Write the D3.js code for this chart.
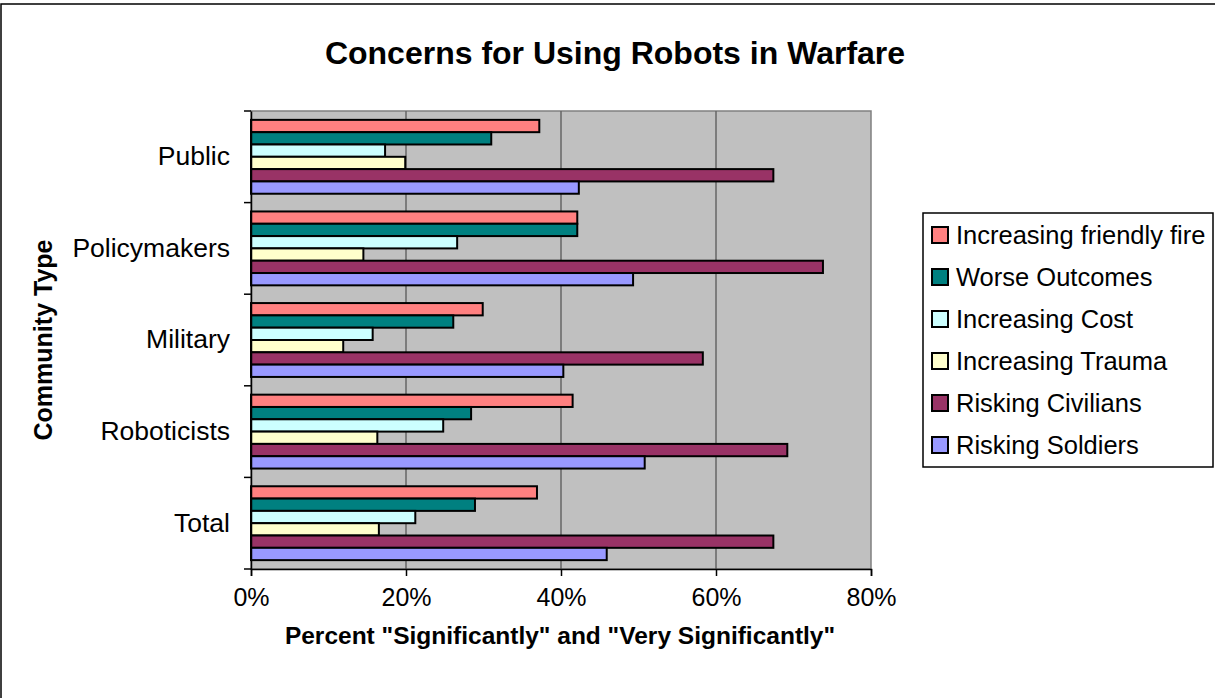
<!DOCTYPE html>
<html>
<head>
<meta charset="utf-8">
<script src="https://cdn.jsdelivr.net/npm/d3@7"></script>
<style>
  body { margin: 0; background: #fff; }
  svg text { font-family: "Liberation Sans", Arial, sans-serif; fill: #000; }
</style>
</head>
<body>
<script>
// data
var categories = ["Public", "Policymakers", "Military", "Roboticists", "Total"];
var seriesNames = ["Increasing friendly fire", "Worse Outcomes", "Increasing Cost",
                   "Increasing Trauma", "Risking Civilians", "Risking Soldiers"];
var seriesColors = ["#ff8080", "#008080", "#ccffff", "#ffffcc", "#993366", "#9999ff"];
var friendlyFire = [37.2, 42.1, 29.9, 41.5, 36.9];
var worseOutcomes = [31.0, 42.1, 26.1, 28.4, 28.9];
var increasingCost = [17.3, 26.6, 15.7, 24.8, 21.2];
var increasingTrauma = [19.9, 14.5, 11.9, 16.3, 16.5];
var riskingCivilians = [67.4, 73.8, 58.3, 69.2, 67.4];
var riskingSoldiers = [42.3, 49.3, 40.3, 50.8, 45.9];
var xTicks = [0, 20, 40, 60, 80];

var seriesValues = [friendlyFire, worseOutcomes, increasingCost,
                    increasingTrauma, riskingCivilians, riskingSoldiers];

var width = 1215, height = 698;
var plot = { left: 251, right: 871, top: 111, bottom: 569 };

var svg = d3.select("body").append("svg")
  .attr("width", width)
  .attr("height", height);

// outer chart frame (right and bottom edges fall outside the picture)
svg.append("rect")
  .attr("x", 1).attr("y", 4)
  .attr("width", 1230).attr("height", 720)
  .attr("fill", "#fff")
  .attr("stroke", "#000")
  .attr("stroke-width", 1.5);

var x = d3.scaleLinear().domain([0, 80]).range([plot.left, plot.right]);
var y0 = d3.scaleBand().domain(categories).range([plot.top, plot.bottom]).padding(0);
var y1 = d3.scaleBand().domain(seriesNames).range([0, y0.bandwidth()])
  .paddingInner(0).paddingOuter(0.72);

// plot area
svg.append("rect")
  .attr("x", plot.left).attr("y", plot.top)
  .attr("width", plot.right - plot.left).attr("height", plot.bottom - plot.top)
  .attr("fill", "#c0c0c0")
  .attr("stroke", "#808080")
  .attr("stroke-width", 1.5);

// gridlines
svg.append("g").selectAll("line")
  .data(xTicks.slice(1, -1))
  .enter().append("line")
  .attr("x1", function(d) { return x(d); })
  .attr("x2", function(d) { return x(d); })
  .attr("y1", plot.top).attr("y2", plot.bottom)
  .attr("stroke", "#666")
  .attr("stroke-width", 1.5);

// bars
var groups = svg.append("g").selectAll("g")
  .data(categories)
  .enter().append("g")
  .attr("transform", function(c) { return "translate(0," + y0(c) + ")"; });

groups.selectAll("rect")
  .data(function(c, ci) {
    return seriesNames.map(function(s, si) {
      return { name: s, value: seriesValues[si][ci], color: seriesColors[si] };
    });
  })
  .enter().append("rect")
  .attr("x", x(0))
  .attr("y", function(d) { return y1(d.name); })
  .attr("width", function(d) { return x(d.value) - x(0); })
  .attr("height", y1.bandwidth())
  .attr("fill", function(d) { return d.color; })
  .attr("stroke", "#000")
  .attr("stroke-width", 2);

// x axis
var xAxis = d3.axisBottom(x)
  .tickValues(xTicks)
  .tickFormat(function(d) { return d + "%"; })
  .tickSize(7)
  .tickPadding(12);
var gx = svg.append("g")
  .attr("transform", "translate(0," + plot.bottom + ")")
  .call(xAxis);
gx.select(".domain").attr("stroke", "#000").attr("stroke-width", 1.5);
gx.selectAll(".tick line").attr("stroke", "#000").attr("stroke-width", 1.5);
gx.selectAll("text").style("font-size", "25px");

// y axis: labels at band centres, ticks at band edges
var yAxis = d3.axisLeft(y0).tickSize(0).tickPadding(21);
var gy = svg.append("g")
  .attr("transform", "translate(" + plot.left + ",0)")
  .call(yAxis);
gy.select(".domain").attr("stroke", "#000").attr("stroke-width", 1.5);
gy.selectAll("text").style("font-size", "26.5px");

var edges = categories.map(function(c) { return y0(c); }).concat([plot.bottom]);
gy.selectAll(".edge")
  .data(edges)
  .enter().append("line")
  .attr("class", "edge")
  .attr("x1", -7).attr("x2", 0)
  .attr("y1", function(d) { return d; })
  .attr("y2", function(d) { return d; })
  .attr("stroke", "#000")
  .attr("stroke-width", 1.5);

// titles
svg.append("text")
  .attr("x", 615).attr("y", 64)
  .attr("text-anchor", "middle")
  .style("font-size", "32px")
  .style("font-weight", "bold")
  .text("Concerns for Using Robots in Warfare");

svg.append("text")
  .attr("x", 560).attr("y", 644)
  .attr("text-anchor", "middle")
  .style("font-size", "24.5px")
  .style("font-weight", "bold")
  .text("Percent \"Significantly\" and \"Very Significantly\"");

svg.append("text")
  .attr("transform", "translate(52," + ((plot.top + plot.bottom) / 2) + ") rotate(-90)")
  .attr("text-anchor", "middle")
  .style("font-size", "25px")
  .style("font-weight", "bold")
  .text("Community Type");

// legend
var legend = svg.append("g");
legend.append("rect")
  .attr("x", 923).attr("y", 213)
  .attr("width", 290).attr("height", 254)
  .attr("fill", "#fff")
  .attr("stroke", "#000")
  .attr("stroke-width", 1.5);

var items = legend.selectAll(".item")
  .data(seriesNames)
  .enter().append("g")
  .attr("class", "item")
  .attr("transform", function(d, i) { return "translate(932," + (235 + i * 42) + ")"; });

items.append("rect")
  .attr("x", 0).attr("y", -8)
  .attr("width", 16).attr("height", 16)
  .attr("fill", function(d, i) { return seriesColors[i]; })
  .attr("stroke", "#000")
  .attr("stroke-width", 2);

items.append("text")
  .attr("x", 24).attr("y", 0)
  .attr("dy", "0.35em")
  .style("font-size", "25.5px")
  .text(function(d) { return d; });
</script>
</body>
</html>
